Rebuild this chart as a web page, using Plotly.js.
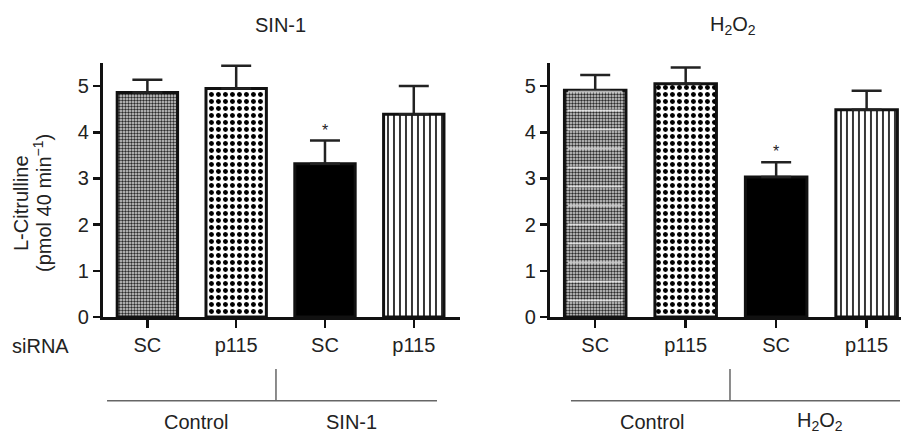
<!DOCTYPE html>
<html>
<head>
<meta charset="utf-8">
<script src="https://cdn.plot.ly/plotly-3.0.1.min.js"></script>
<style>html,body{margin:0;padding:0;background:#fff;}#chart{width:901px;height:435px;}</style>
</head>
<body>
<div id="chart"></div>
<script>
// ---- data ----
const siRNA = ["SC", "p115", "SC", "p115"];
const sin1Mean = [4.86, 4.95, 3.32, 4.39];
const sin1Sem = [0.28, 0.49, 0.50, 0.61];
const sin1Sig = [false, false, true, false];
const h2o2Mean = [4.91, 5.05, 3.03, 4.49];
const h2o2Sem = [0.33, 0.35, 0.32, 0.41];
const h2o2Sig = [false, false, true, false];
const yTicks = [0, 1, 2, 3, 4, 5];
const panelTitles = ["SIN-1", "H<sub>2</sub>O<sub>2</sub>"];
const groupLabels = [["Control", "SIN-1"], ["Control", "H<sub>2</sub>O<sub>2</sub>"]];
const yTitleLines = ["L-Citrulline", "(pmol 40 min<sup>−1</sup>)"];
const rowLabel = "siRNA";

// ---- style ----
const FONT = "Liberation Sans, Arial, Helvetica, sans-serif";
const TXT = "#222";
const xpos = siRNA.map((_, i) => i);
const patShape = [".", ".", "", "|"];
const patFg = ["#2a2a2a", "#000", "#000", "#111"];
const patBg = ["#d8d8d8", "#fff", "#000", "#fff"];
const patSize = [3, 7, 8, 6];
const patSol = [0.5, 0.4, 0.5, 0.28];

function barTrace(mean, sem, xa, ya) {
  return {
    type: "bar", x: xpos, y: mean, xaxis: xa, yaxis: ya, width: 0.68,
    marker: {
      color: "#000",
      line: {color: "#111", width: 3},
      pattern: {shape: patShape, fgcolor: patFg, bgcolor: patBg, size: patSize, solidity: patSol, fillmode: "replace"}
    },
    error_y: {type: "data", symmetric: false, array: sem, arrayminus: sem.map(() => 0),
              color: "#222", thickness: 2.5, width: 15},
    hoverinfo: "skip", showlegend: false
  };
}
// white horizontal banding on first bar of H2O2 panel
const stripeTrace = {
  type: "bar", x: xpos, y: h2o2Mean, xaxis: "x2", yaxis: "y2", width: 0.6,
  marker: {color: "rgba(0,0,0,0)", line: {width: 0},
    pattern: {shape: ["-", "", "", ""], fgcolor: "rgba(255,255,255,0.65)", bgcolor: "rgba(0,0,0,0)", size: 19, solidity: 0.1, fillmode: "replace"}},
  hoverinfo: "skip", showlegend: false
};

const data = [barTrace(sin1Mean, sin1Sem, "x", "y"), barTrace(h2o2Mean, h2o2Sem, "x2", "y2"), stripeTrace];

function xaxisDef(domain, range, anchor) {
  return {domain: domain, range: range, anchor: anchor, tickmode: "array", tickvals: xpos, ticktext: siRNA,
    showline: true, linecolor: "#111", linewidth: 3, ticks: "outside", ticklen: 8, tickwidth: 2.5, tickcolor: "#111",
    showgrid: false, zeroline: false, tickfont: {family: FONT, size: 20, color: TXT}, fixedrange: true};
}
function yaxisDef(anchor) {
  return {domain: [0, 1], range: [0, 5.5], anchor: anchor, tickmode: "array", tickvals: yTicks,
    showline: true, linecolor: "#111", linewidth: 3, ticks: "outside", ticklen: 7, tickwidth: 2.5, tickcolor: "#111",
    showgrid: false, zeroline: false, tickfont: {family: FONT, size: 20, color: TXT}, fixedrange: true};
}

const annotations = [];
function addStars(mean, sem, sig, xa, ya) {
  sig.forEach((s, i) => {
    if (s) annotations.push({xref: xa, yref: ya, x: xpos[i], y: mean[i] + sem[i], text: "*", showarrow: false,
      yanchor: "bottom", yshift: 0, font: {family: FONT, size: 16, color: TXT}});
  });
}
addStars(sin1Mean, sin1Sem, sin1Sig, "x", "y");
addStars(h2o2Mean, h2o2Sem, h2o2Sig, "x2", "y2");

const titleX = [0.3108, 0.8135];
panelTitles.forEach((t, i) => annotations.push({xref: "paper", yref: "paper", x: titleX[i], y: 1.1496, text: t,
  showarrow: false, xanchor: "center", yanchor: "middle", font: {family: FONT, size: 20, color: TXT}}));
const yTitleX = [0.0233, 0.0466];
yTitleLines.forEach((t, i) => annotations.push({xref: "paper", yref: "paper", x: yTitleX[i], y: 0.4488, text: t,
  textangle: -90, showarrow: false, xanchor: "center", yanchor: "middle", font: {family: FONT, size: 20, color: TXT}}));
annotations.push({xref: "paper", yref: "paper", x: 0.0444, y: -0.1142, text: rowLabel, showarrow: false,
  xanchor: "center", yanchor: "middle", font: {family: FONT, size: 20, color: TXT}});
const groupX = [[0.2175, 0.3896], [0.7236, 0.9101]];
groupLabels.forEach((g, p) => g.forEach((t, j) => annotations.push({xref: "paper", yref: "paper", x: groupX[p][j], y: -0.412,
  text: t, showarrow: false, xanchor: "center", yanchor: "middle", font: {family: FONT, size: 20, color: TXT}})));

const lineStyle = {color: "#666", width: 1.5};
const shapes = [
  {type: "line", xref: "paper", yref: "paper", x0: 0.1188, x1: 0.4850, y0: -0.3295, y1: -0.3295, line: lineStyle},
  {type: "line", xref: "paper", yref: "paper", x0: 0.3063, x1: 0.3063, y0: -0.3295, y1: -0.2047, line: lineStyle},
  {type: "line", xref: "paper", yref: "paper", x0: 0.6337, x1: 0.9989, y0: -0.3295, y1: -0.3295, line: lineStyle},
  {type: "line", xref: "paper", yref: "paper", x0: 0.8102, x1: 0.8102, y0: -0.3295, y1: -0.2047, line: lineStyle}
];

const layout = {
  width: 901, height: 435, margin: {l: 0, r: 0, t: 63, b: 118},
  paper_bgcolor: "#fff", plot_bgcolor: "#fff", barmode: "overlay", showlegend: false,
  xaxis: xaxisDef([0.1143, 0.5105], [-0.5, 3.52], "y"),
  yaxis: yaxisDef("x"),
  xaxis2: xaxisDef([0.6104, 1.0], [-0.5, 3.38], "y2"),
  yaxis2: yaxisDef("x2"),
  annotations: annotations, shapes: shapes,
  font: {family: FONT, color: TXT}
};
Plotly.newPlot("chart", data, layout, {staticPlot: true, displayModeBar: false});
</script>
</body>
</html>
